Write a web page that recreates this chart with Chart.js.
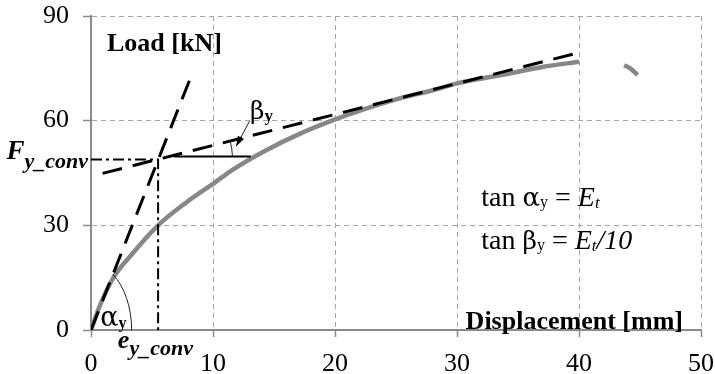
<!DOCTYPE html>
<html>
<head>
<meta charset="utf-8">
<script src="https://cdn.jsdelivr.net/npm/chart.js@4.4.1/dist/chart.umd.min.js"></script>
<style>
html, body { margin: 0; padding: 0; background: #fff; }
</style>
</head>
<body>
<canvas id="myChart" width="715" height="374"></canvas>
<script>
// load-displacement curve
var curveX = [0, 0.8, 1.8, 3.3, 5.5, 7.9, 10.2, 11.6, 14.4, 17.1, 19.9, 22.6, 25.3, 28.1, 30, 34.4, 37, 40];
var curveY = [0, 7.6, 14.8, 21.5, 30.0, 36.8, 42.4, 45.9, 51.6, 56.2, 60.2, 63.5, 66.4, 68.8, 70.7, 73.6, 75.4, 76.9];
var tailX = [43.7, 44.2, 44.8];
var tailY = [75.9, 75.0, 73.1];

// construction lines
var stiffX = [0, 8.1];
var stiffY = [0, 71.8];
var hardX = [0.95, 40.1];
var hardY = [44.9, 79.6];
var yieldX = [0, 5.5, 5.5];
var yieldY = [48.9, 48.9, 0];
var levelX = [6.8, 13.1];
var levelY = [49.7, 49.7];

var xTicks = [0, 10, 20, 30, 40, 50];
var yTicks = [0, 30, 60, 90];

function pts(xs, ys) {
    var out = [];
    for (var i = 0; i < xs.length; i++) {
        out.push({x: xs[i], y: ys[i]});
    }
    return out;
}

var serif = 'Liberation Serif';
var greek = 'DejaVu Serif';
Chart.defaults.font.family = serif;

function runs(ctx, x, y, parts, align) {
    var total = 0;
    parts.forEach(function (p) {
        ctx.font = p.f;
        p.w = ctx.measureText(p.t).width;
        total += p.w;
    });
    if (align === 'right') x -= total;
    parts.forEach(function (p) {
        ctx.font = p.f;
        ctx.fillText(p.t, x, y + (p.dy || 0));
        x += p.w;
    });
}

var notes = {
    id: 'notes',
    afterDatasetsDraw: function (chart) {
        var ctx = chart.ctx;
        var xs = chart.scales.x, ys = chart.scales.y;
        var px = function (v) { return xs.getPixelForValue(v); };
        var py = function (v) { return ys.getPixelForValue(v); };
        var kx = px(1) - px(0), ky = py(0) - py(1);

        ctx.save();
        ctx.strokeStyle = '#222';
        ctx.fillStyle = '#000';
        ctx.lineWidth = 1;

        // alpha arc at the origin
        var th = Math.atan2(stiffY[1] * ky, stiffX[1] * kx);
        var rx = 3.33 * kx, ry = 18.9 * ky;
        var t = Math.atan(rx * Math.tan(th) / ry);
        ctx.beginPath();
        ctx.ellipse(px(0), py(0), rx, ry, 0, -t, 0);
        ctx.stroke();

        // beta arc at the yield point
        var slope = (hardY[1] - hardY[0]) / (hardX[1] - hardX[0]);
        var tb = Math.atan(slope * ky / kx);
        var r = 6.1 * kx;
        var lift = Math.asin((py(48.9) - py(levelY[0])) / r);
        ctx.beginPath();
        ctx.arc(px(5.5), py(48.9), r, -tb, -lift);
        ctx.stroke();

        // arrow from beta label
        var x1 = px(13.0), y1 = py(59.9), x2 = px(11.9), y2 = py(52.7);
        ctx.beginPath();
        ctx.moveTo(x1, y1);
        ctx.lineTo(x2, y2);
        ctx.stroke();
        var ang = Math.atan2(y2 - y1, x2 - x1);
        ctx.beginPath();
        ctx.moveTo(x2, y2);
        ctx.lineTo(x2 - 10 * Math.cos(ang) + 3.5 * Math.sin(ang), y2 - 10 * Math.sin(ang) - 3.5 * Math.cos(ang));
        ctx.lineTo(x2 - 10 * Math.cos(ang) - 3.5 * Math.sin(ang), y2 - 10 * Math.sin(ang) + 3.5 * Math.cos(ang));
        ctx.closePath();
        ctx.fill();

        ctx.textBaseline = 'alphabetic';
        ctx.textAlign = 'left';

        ctx.font = 'bold 26px ' + serif;
        ctx.fillText('Load [kN]', px(1.31), py(80.1));
        ctx.textAlign = 'right';
        ctx.fillText('Displacement [mm]', px(48.52), py(0.3));
        ctx.textAlign = 'left';

        runs(ctx, px(0) - 3, py(48.9), [
            {t: 'F', f: 'bold italic 27px ' + serif},
            {t: 'y_conv', f: 'bold italic 22px ' + serif, dy: 9}
        ], 'right');

        runs(ctx, px(2.2), py(0) + 18, [
            {t: 'e', f: 'bold italic 26px ' + serif},
            {t: 'y_conv', f: 'bold italic 22px ' + serif, dy: 7}
        ]);

        runs(ctx, px(13.03), py(60.5), [
            {t: '\u03b2', f: '25px ' + greek},
            {t: 'y', f: 'bold 17px ' + serif, dy: 2}
        ]);

        runs(ctx, px(0.75), py(1.1), [
            {t: '\u03b1', f: '27px ' + greek},
            {t: 'y', f: 'bold 16px ' + serif, dy: 2}
        ]);

        runs(ctx, px(31.99), py(35.5), [
            {t: 'tan ', f: '28px ' + serif},
            {t: '\u03b1', f: '26px ' + greek},
            {t: 'y', f: '16px ' + serif, dy: 1},
            {t: ' = ', f: '28px ' + serif},
            {t: 'E', f: 'italic 28px ' + serif},
            {t: 't', f: 'italic 17px ' + serif, dy: 2}
        ]);

        runs(ctx, px(31.99), py(23.2), [
            {t: 'tan ', f: '28px ' + serif},
            {t: '\u03b2', f: '25px ' + greek},
            {t: 'y', f: '16px ' + serif, dy: 1},
            {t: ' = ', f: '28px ' + serif},
            {t: 'E', f: 'italic 28px ' + serif},
            {t: 't', f: 'italic 17px ' + serif, dy: 2},
            {t: '/10', f: 'italic 28px ' + serif}
        ]);

        ctx.restore();
    }
};

var line = function (data, color, width, dash) {
    return {
        data: data,
        borderColor: color,
        borderWidth: width,
        borderDash: dash,
        pointRadius: 0,
        fill: false,
        tension: 0
    };
};

const ctx = document.getElementById('myChart');
var chart = new Chart(ctx, {
    type: 'line',
    data: {
        datasets: [
            line(pts(stiffX, stiffY), '#000', 3, [20, 11]),
            line(pts(hardX, hardY), '#000', 3, [20, 11]),
            line(pts(yieldX, yieldY), '#000', 2, [11, 4, 3, 4]),
            line(pts(levelX, levelY), '#000', 2, []),
            {
                data: pts(curveX, curveY),
                borderColor: '#878787',
                borderWidth: 4.5,
                pointRadius: 0,
                fill: false,
                cubicInterpolationMode: 'monotone'
            },
            {
                data: pts(tailX, tailY),
                borderColor: '#878787',
                borderWidth: 4.5,
                pointRadius: 0,
                fill: false,
                tension: 0.4
            }
        ]
    },
    options: {
        responsive: false,
        animation: false,
        layout: { padding: { top: 16, right: 14, left: 0, bottom: 0 } },
        plugins: { legend: { display: false }, tooltip: { enabled: false } },
        scales: {
            x: {
                type: 'linear',
                min: 0,
                max: 50,
                afterBuildTicks: function (s) { s.ticks = xTicks.map(function (v) { return {value: v}; }); },
                afterFit: function (s) { s.height = 44; s.paddingLeft = 0; s.paddingRight = 0; },
                grid: { color: '#a6a6a6', lineWidth: 1, tickLength: 7, tickColor: '#8a8a8a', tickWidth: 1.5 },
                border: { color: '#8a8a8a', width: 2, dash: [5, 4] },
                ticks: { color: '#000', font: { size: 26 }, padding: 12, maxRotation: 0 }
            },
            y: {
                type: 'linear',
                min: 0,
                max: 90,
                afterBuildTicks: function (s) { s.ticks = yTicks.map(function (v) { return {value: v}; }); },
                afterFit: function (s) { s.width = 91; s.paddingTop = 0; s.paddingBottom = 0; },
                grid: { color: '#a6a6a6', lineWidth: 1, tickLength: 8, tickColor: '#8a8a8a', tickWidth: 1.5 },
                border: { color: '#8a8a8a', width: 2, dash: [5, 4] },
                ticks: { color: '#000', font: { size: 26 }, padding: 14 }
            }
        }
    },
    plugins: [notes]
});
</script>
</body>
</html>
